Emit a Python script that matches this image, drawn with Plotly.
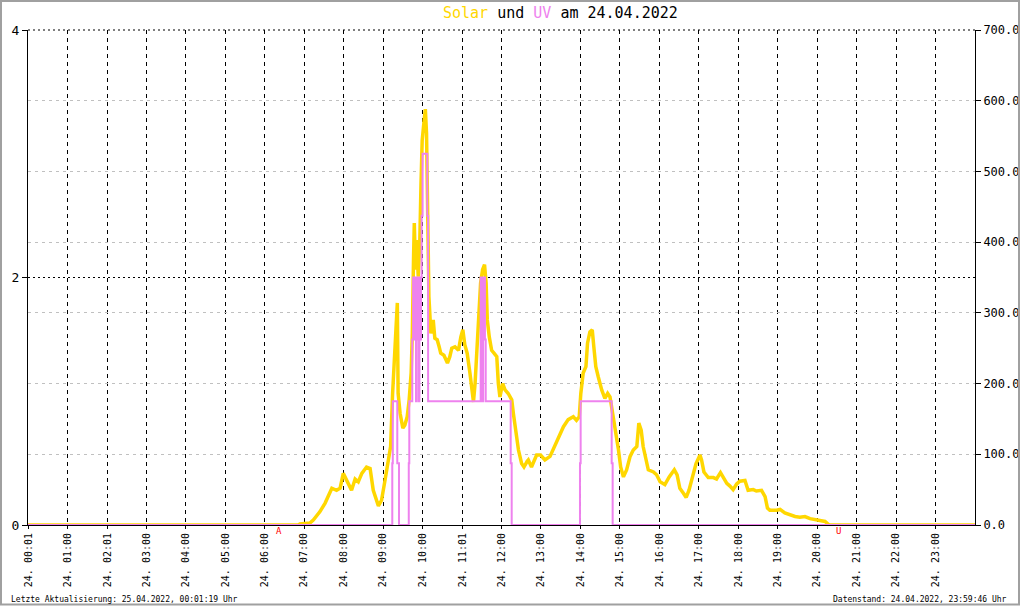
import plotly.graph_objects as go

# ---- data (hours of day, values) ----
solar_t = [0, 6.85, 6.89, 7.15, 7.23, 7.40, 7.53, 7.70, 7.82, 7.91, 7.99, 8.12, 8.20, 8.29, 8.37, 8.46,
           8.58, 8.67, 8.75, 8.88, 8.96, 9.05, 9.13, 9.19, 9.24, 9.28, 9.33, 9.36, 9.38, 9.43, 9.50,
           9.55, 9.61, 9.66, 9.71, 9.74, 9.77, 9.79, 9.82, 9.85, 9.89, 9.93, 9.96, 9.99, 10.04, 10.07,
           10.10, 10.13, 10.16, 10.21, 10.27, 10.31, 10.37, 10.42, 10.46, 10.54, 10.63, 10.69, 10.74,
           10.82, 10.91, 10.97, 11.02, 11.07, 11.13, 11.20, 11.24, 11.29, 11.33, 11.37, 11.41, 11.47,
           11.52, 11.57, 11.61, 11.64, 11.69, 11.75, 11.81, 11.88, 11.92, 11.96, 12.03, 12.09, 12.17,
           12.26, 12.30, 12.37, 12.43, 12.51, 12.57, 12.65, 12.68, 12.76, 12.89, 12.99, 13.10, 13.23,
           13.36, 13.44, 13.57, 13.69, 13.82, 13.90, 13.97, 14.01, 14.07, 14.14, 14.18, 14.24, 14.30,
           14.34, 14.39, 14.45, 14.54, 14.62, 14.69, 14.75, 14.82, 14.88, 14.96, 15.02, 15.09, 15.17,
           15.26, 15.34, 15.43, 15.48, 15.54, 15.59, 15.66, 15.72, 15.85, 15.93, 16.02, 16.14, 16.25,
           16.38, 16.45, 16.52, 16.61, 16.68, 16.75, 16.84, 16.93, 17.03, 17.07, 17.13, 17.24, 17.37,
           17.45, 17.55, 17.62, 17.71, 17.79, 17.87, 17.96, 18.04, 18.17, 18.25, 18.38, 18.46, 18.59,
           18.68, 18.74, 18.80, 18.97, 19.06, 19.18, 19.31, 19.44, 19.56, 19.69, 19.82, 19.94, 20.07,
           20.20, 20.28, 20.32, 24]
solar_v = [0, 0, 1.4, 3, 7, 19, 31, 52, 49, 52, 73, 59, 49, 65, 61, 73,
           82, 80, 49, 27, 35, 64, 92, 111, 186, 229, 271, 314, 186, 158, 137,
           141, 153, 177, 215, 271, 375, 427, 361, 403, 351, 403, 483, 544, 573, 588,
           554, 436, 323, 271, 290, 264, 262, 252, 243, 240, 229, 238, 250,
           252, 247, 266, 276, 255, 243, 215, 191, 174, 200, 247, 295, 342,
           361, 368, 342, 290, 266, 247, 243, 238, 200, 181, 200, 191, 186,
           177, 158, 130, 106, 87, 82, 90, 92, 82, 99, 99, 92, 97,
           113, 125, 139, 149, 153, 148, 153, 186, 215, 224, 257, 273, 276,
           252, 224, 210, 191, 179, 186, 181, 158, 135, 108, 82, 68, 78,
           97, 106, 111, 144, 134, 111, 92, 78, 75, 71, 61, 57, 68,
           78, 71, 52, 45, 39, 49, 70, 87, 99, 92, 75, 67, 67,
           65, 74, 68, 59, 55, 50, 58, 62, 63, 49, 50, 48, 49,
           40, 24, 21, 21, 22, 17, 14, 12, 11, 12, 9, 8, 6,
           5, 1, 0, 0]

uv_t = [0, 9.232, 9.245, 9.359, 9.402, 9.650, 9.663, 9.739, 9.76, 9.78, 9.80, 9.833, 9.845, 9.86,
        9.88, 9.90, 9.92, 9.94, 9.96, 9.976, 10.00, 10.119, 10.14, 11.472, 11.52, 11.535, 11.58,
        11.60, 12.233, 12.258, 13.989, 14.006, 14.792, 14.817, 24]
uv_v = [0, 0.5, 1, 0.5, 0, 0.5, 1, 1.5, 2, 1.5, 2, 1, 2, 1.5,
        2, 1, 2, 1.5, 2, 2.5, 3, 2.5, 1, 2, 1, 2, 1.5,
        1, 0.5, 0, 0.5, 1, 0.5, 0, 0]

tick_vals = [0.0167, 1, 2.0167, 3, 4, 5, 6, 7, 8, 9, 10, 11.0167, 12, 13, 14, 15, 16, 17, 18, 19, 20, 21, 22, 23]
tick_text = ["24. 00:01", "24. 01:00", "24. 02:01", "24. 03:00", "24. 04:00", "24. 05:00",
             "24. 06:00", "24. 07:00", "24. 08:00", "24. 09:00", "24. 10:00", "24. 11:01",
             "24. 12:00", "24. 13:00", "24. 14:00", "24. 15:00", "24. 16:00", "24. 17:00",
             "24. 18:00", "24. 19:00", "24. 20:00", "24. 21:00", "24. 22:00", "24. 23:00"]

sunrise_t = 6.36
sunset_t = 20.55

FONT = "DejaVu Sans Mono"
W, H = 1020, 606
L, R, T, B = 28, 45, 30, 81
PW, PH = W - L - R, H - T - B


def px(x):
    return (x - L) / PW


def py(y):
    return (H - B - y) / PH


fig = go.Figure()
fig.add_trace(go.Scatter(x=solar_t, y=solar_v, mode="lines", yaxis="y",
                         line=dict(color="#FFD700", width=3.5), name="Solar"))
fig.add_trace(go.Scatter(x=uv_t, y=uv_v, mode="lines", yaxis="y2",
                         line=dict(color="#EE82EE", width=2, shape="hv"), name="UV"))

fig.update_layout(
    width=W, height=H,
    margin=dict(l=L, r=R, t=T, b=B, pad=0, autoexpand=False),
    paper_bgcolor="white", plot_bgcolor="white",
    showlegend=False,
    font=dict(family=FONT, color="black", size=12),
    xaxis=dict(range=[0, 24], tickvals=tick_vals, ticktext=tick_text, tickangle=-90,
               tickfont=dict(size=10), showgrid=True, gridcolor="black", griddash="4px,4px",
               gridwidth=1, ticks="outside", ticklen=3, tickcolor="black", automargin=False,
               showline=True, linecolor="black", linewidth=1, zeroline=False),
    yaxis=dict(side="right", range=[0, 700], tickvals=[0, 100, 200, 300, 400, 500, 600, 700],
               tickformat=".1f", tickfont=dict(size=12), showgrid=True, gridcolor="#c0c0c0",
               griddash="3px,4px", ticks="outside", ticklen=5, tickcolor="black", automargin=False,
               showline=True, linecolor="black", zeroline=False),
    yaxis2=dict(side="left", overlaying="y", range=[0, 4], tickvals=[0, 2, 4],
                tickfont=dict(size=13), showgrid=True, gridcolor="black", griddash="2px,3px",
                ticks="outside", ticklen=5, tickcolor="black", automargin=False,
                showline=True, linecolor="black", zeroline=False),
)

annotations = [
    dict(text='<span style="color:#FFD700">Solar</span> und <span style="color:#EE82EE">UV</span> am 24.04.2022',
         x=px(560), y=py(13), xref="paper", yref="paper", showarrow=False,
         font=dict(size=15, family=FONT, color="black"), xanchor="center", yanchor="middle"),
    dict(text="Letzte Aktualisierung: 25.04.2022, 00:01:19 Uhr", x=px(9), y=py(599),
         xref="paper", yref="paper", showarrow=False, xanchor="left", yanchor="middle",
         font=dict(size=8, family=FONT, color="black")),
    dict(text="Datenstand: 24.04.2022, 23:59:46 Uhr", x=px(1009), y=py(599),
         xref="paper", yref="paper", showarrow=False, xanchor="right", yanchor="middle",
         font=dict(size=8, family=FONT, color="black")),
    dict(text="A", x=sunrise_t, y=py(531), xref="x", yref="paper", showarrow=False,
         xanchor="center", yanchor="middle", font=dict(size=9, family=FONT, color="#FF0000")),
    dict(text="U", x=sunset_t, y=py(531), xref="x", yref="paper", showarrow=False,
         xanchor="center", yanchor="middle", font=dict(size=9, family=FONT, color="#FF0000")),
]
fig.update_layout(annotations=annotations)

# dotted line along the top (value 4 / 700)
fig.add_shape(type="line", xref="paper", yref="paper", x0=0, x1=1, y0=1, y1=1,
              line=dict(color="black", width=1, dash="2px,3px"), layer="below")

fig.add_shape(type="rect", xref="paper", yref="paper",
              x0=px(1), x1=px(1019), y0=py(1), y1=py(604.5),
              line=dict(color="#a0a0a0", width=2), fillcolor="rgba(0,0,0,0)", layer="above")

fig.write_html("out.html", config={"displayModeBar": False},
               post_script="document.body.style.margin='0px';")
